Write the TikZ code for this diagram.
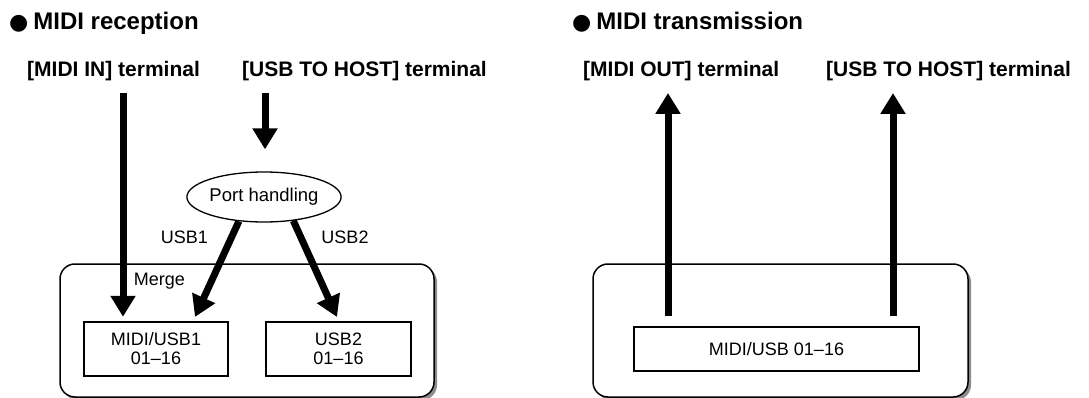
\documentclass[tikz,border=0pt]{standalone}
\usepackage{fontspec}
\setmainfont{Liberation Sans}
\newfontfamily\symfont{DejaVu Sans}
\usetikzlibrary{arrows.meta,shapes.geometric,shadows}
\begin{document}
\begin{tikzpicture}[x=1pt,y=-1pt,
  hdr/.style={font=\fontsize{24}{28}\selectfont\bfseries, anchor=base west, inner sep=0},
  term/.style={font=\fontsize{21}{24}\selectfont\bfseries, anchor=base west, inner sep=0},
  lbl/.style={font=\fontsize{18}{19}\selectfont, anchor=base, inner sep=0},
  chbox/.style={draw, line width=1.5pt, align=center, inner sep=0,
    font=\fontsize{18}{19}\selectfont},
  container/.style={draw, line width=1.5pt, rounded corners=15pt, fill=white,
    minimum width=374pt, minimum height=133pt, inner sep=0,
    drop shadow={shadow xshift=3pt, shadow yshift=-3pt, fill=black!45, opacity=1}},
  bigarrow/.style={line width=7pt, -{Triangle[width=24pt,length=21pt]}}
]
\useasboundingbox (0,0) rectangle (1089,398);
% headers
\node[hdr] (h1) at (9,30) {{\symfont\fontsize{22}{26}\selectfont ●}\hspace{5pt}MIDI reception};
\node[hdr] (h2) at (572,30) {{\symfont\fontsize{22}{26}\selectfont ●}\hspace{5pt}MIDI transmission};
\node[term] (tin) at (27,77) {[MIDI IN] terminal};
\node[term] (thost1) at (242,77) {[USB TO HOST] terminal};
\node[term] (tout) at (583,77) {[MIDI OUT] terminal};
\node[term] (thost2) at (826,77) {[USB TO HOST] terminal};
% containers
\node[container] (c1) at (247,330.5) {};
\node[container, minimum width=375pt] (c2) at (780.5,330.5) {};
% boxes
\node[chbox, minimum width=144pt, minimum height=54pt] (b1) at (156,349) {MIDI/USB1\\01--16};
\node[chbox, minimum width=145pt, minimum height=54pt] (b2) at (338.5,349) {USB2\\01--16};
\node[chbox, minimum width=285pt, minimum height=44pt] (rb) at (776.5,349) {MIDI/USB 01--16};
% ellipse
\node[ellipse, draw, line width=1.3pt, minimum width=132pt, minimum height=50pt, inner sep=0,
  font=\fontsize{18.5}{19}\selectfont] (ph) at (264,197) {Port handling};
% labels
\node[lbl] (l1) at (184.5,243) {USB1};
\node[lbl] (l2) at (345,243) {USB2};
\node[lbl] (lm) at (159.5,285) {Merge};
% arrows
\coordinate (a1) at (123,93);
\coordinate (a2) at (265,93);
\coordinate (t1) at (195,317);
\coordinate (t2) at (337,317);
\coordinate (u1) at (668,93);
\coordinate (u2) at (893,93);
\draw[bigarrow, shorten >=4.5pt] (a1) -- (a1 |- b1.north);
\draw[bigarrow, shorten >=22pt] (a2) -- (a2 |- ph.north);
\draw[bigarrow] (ph.224) -- (t1);
\draw[bigarrow] (ph.321) -- (t2);
\draw[bigarrow, shorten <=10pt] (u1 |- rb.north) -- (u1);
\draw[bigarrow, shorten <=10pt] (u2 |- rb.north) -- (u2);
\end{tikzpicture}
\end{document}
